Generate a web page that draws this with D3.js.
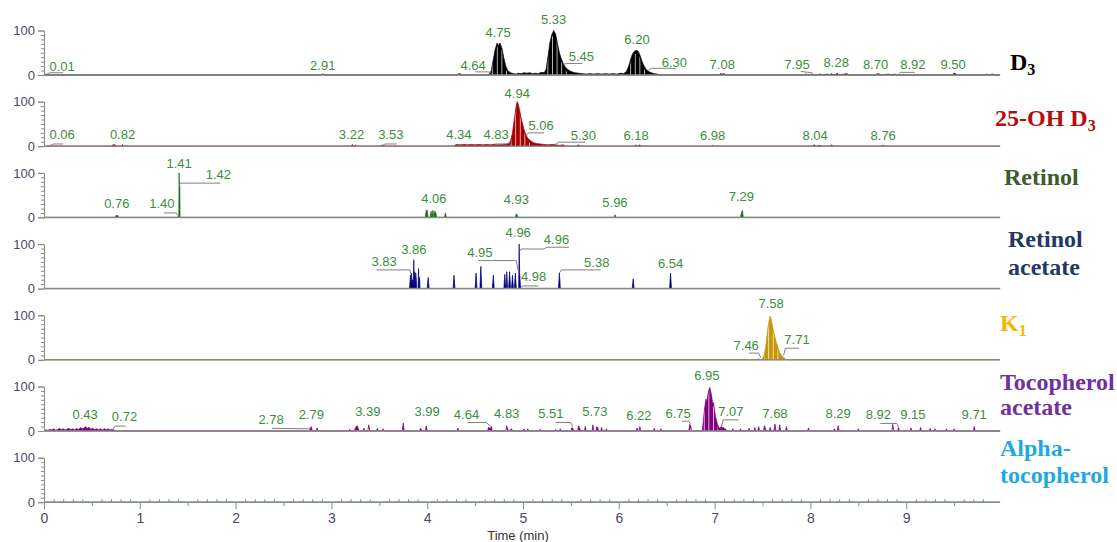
<!DOCTYPE html>
<html><head><meta charset="utf-8">
<script src="https://cdn.jsdelivr.net/npm/d3@7"></script>
<style>body{margin:0;background:#fff}svg{display:block}</style>
</head><body>
<svg id="c" width="1117" height="542"></svg>
<script>
// ---------- DATA ----------
const compounds = ["D3", "25-OH D3", "Retinol", "Retinol acetate", "K1", "Tocopherol acetate", "Alpha-tocopherol"];
const xTicks = [0, 1, 2, 3, 4, 5, 6, 7, 8, 9];
const yTicks = [0, 100];
const xTitle = "Time (min)";

const traceD3 = [[0,0],[0.01,3],[0.02,0],[2.90,0],[2.91,3],[2.92,0],[4.31,0],[4.33,3],[4.35,2],[4.37,0],
[4.62,0],[4.65,2],[4.67,10],[4.69,35],[4.71,58],[4.73,72],[4.745,66],[4.76,72],[4.78,60],[4.80,38],[4.82,20],[4.84,10],[4.87,5],[4.90,3],[4.93,2],[4.95,4],[4.98,3],[5.01,5],[5.04,4],[5.07,5],[5.10,3],[5.13,4],[5.16,3],[5.19,6],[5.22,5],[5.24,12],[5.26,40],[5.28,72],[5.30,90],[5.32,100],[5.34,92],[5.36,70],[5.38,50],[5.40,36],[5.42,26],[5.44,18],[5.47,12],[5.50,8],[5.54,5],[5.58,4],[5.62,3],[5.66,2],[5.70,3],[5.74,2],[5.78,3],[5.82,2],[5.86,3],[5.90,2],[5.94,3],[5.98,2],[6.02,4],[6.05,3],[6.08,8],[6.10,18],[6.12,32],[6.14,46],[6.16,53],[6.18,55],[6.20,54],[6.22,45],[6.24,32],[6.26,22],[6.28,14],[6.31,8],[6.34,5],[6.37,3],[6.40,2],[6.43,0],
[7.05,0],[7.06,3],[7.08,2],[7.10,3],[7.11,0],[7.93,0],[7.95,2],[7.98,0],[8.02,2],[8.05,0],[8.10,2],[8.13,0],[8.18,2],[8.20,0],[8.22,3],[8.24,0],[8.27,2],[8.28,4],[8.30,0],[8.38,3],[8.40,0],
[8.68,0],[8.70,3],[8.72,2],[8.74,0],[8.82,2],[8.84,0],[8.88,2],[8.90,0],[9.48,0],[9.50,4],[9.52,2],[9.54,0],[9.82,0],[9.84,2],[9.86,0],[9.90,2],[9.92,0],[9.98,0]];

const trace25OH = [[0,0],[0.05,0],[0.06,2],[0.07,0],[0.70,0],[0.72,3],[0.74,3],[0.76,0],[0.81,0],[0.82,4],[0.83,0],
[3.20,0],[3.22,4],[3.23,0],[3.25,3],[3.26,0],[3.52,0],[3.53,3],[3.55,0],
[4.28,0],[4.30,4],[4.34,3],[4.38,4],[4.42,3],[4.46,4],[4.50,3],[4.54,4],[4.58,3],[4.62,4],[4.66,3],[4.70,4],[4.74,3],[4.78,4],[4.82,5],[4.85,6],[4.87,12],[4.89,30],[4.91,62],[4.93,92],[4.94,100],[4.95,95],[4.97,75],[4.99,55],[5.01,38],[5.03,26],[5.05,18],[5.08,12],[5.11,8],[5.14,6],[5.18,5],[5.22,4],[5.26,3],[5.30,4],[5.34,3],[5.38,2],[5.42,3],[5.44,0],
[5.56,0],[5.58,3],[5.60,0],[6.16,0],[6.18,3],[6.19,0],[6.22,3],[6.23,0],[6.97,0],[6.98,2],[6.99,0],
[8.02,0],[8.04,3],[8.06,0],[8.10,2],[8.12,0],[8.20,0],[8.22,3],[8.24,0],[8.75,0],[8.76,3],[8.77,0],[9.98,0]];

const traceRetinol = [[0,0],[0.74,0],[0.75,4],[0.77,4],[0.78,0],[1.39,0],[1.40,2],[1.405,0],[1.407,0],[1.41,100],[1.414,70],[1.418,70],[1.42,0],
[3.98,0],[3.99,16],[4.00,16],[4.01,0],[4.03,0],[4.04,14],[4.05,0],[4.06,16],[4.07,0],[4.08,14],[4.09,10],[4.10,0],[4.18,0],[4.19,10],[4.20,0],
[4.92,0],[4.93,8],[4.94,5],[4.95,0],[5.95,0],[5.96,6],[5.97,0],[7.27,0],[7.28,10],[7.29,16],[7.30,0],[9.98,0]];

const traceRetAc = [[0,0],[3.815,0],[3.825,30],[3.83,5],[3.835,35],[3.84,15],[3.845,20],[3.85,5],[3.855,20],[3.86,65],[3.865,5],[3.87,38],[3.875,5],[3.88,35],[3.885,25],[3.89,0],[3.905,0],[3.91,45],[3.915,0],[3.92,25],[3.925,0],
[4.00,0],[4.01,25],[4.02,0],[4.27,0],[4.28,30],[4.29,0],[4.50,0],[4.51,35],[4.52,0],[4.55,0],[4.56,50],[4.57,0],[4.68,0],[4.69,30],[4.70,0],
[4.80,0],[4.81,32],[4.82,0],[4.825,0],[4.83,38],[4.84,0],[4.85,0],[4.86,38],[4.87,0],[4.88,0],[4.89,30],[4.90,0],[4.91,0],[4.92,35],[4.93,0],
[4.955,0],[4.96,100],[4.965,35],[4.975,0],[5.37,0],[5.38,35],[5.39,0],[6.14,0],[6.15,22],[6.16,0],[6.53,0],[6.54,35],[6.55,0],[9.98,0]];

const traceK1 = [[0,0],[7.45,0],[7.46,3],[7.47,0],[7.49,0],[7.50,3],[7.52,12],[7.54,40],[7.555,70],[7.57,90],[7.58,98],[7.59,92],[7.60,80],[7.62,60],[7.64,42],[7.66,28],[7.68,16],[7.70,10],[7.72,5],[7.74,2],[7.76,0],[9.98,0]];

const traceTocAc = [[0,0],[0.02,3],[0.04,1],[0.06,4],[0.08,2],[0.10,5],[0.12,2],[0.14,3],[0.16,6],[0.18,3],[0.20,5],[0.22,2],[0.24,4],[0.26,6],[0.28,3],[0.30,5],[0.32,2],[0.34,6],[0.36,3],[0.38,8],[0.40,5],[0.42,7],[0.43,10],[0.45,6],[0.47,8],[0.49,4],[0.51,6],[0.53,3],[0.55,5],[0.57,3],[0.59,5],[0.61,2],[0.63,5],[0.65,3],[0.67,5],[0.69,2],[0.71,4],[0.73,2],[0.75,0],
[2.77,0],[2.78,6],[2.79,10],[2.80,0],[2.84,0],[2.85,7],[2.86,0],[3.18,0],[3.19,4],[3.20,0],[3.24,0],[3.25,8],[3.27,12],[3.28,6],[3.29,0],[3.33,0],[3.34,6],[3.35,0],[3.38,0],[3.39,14],[3.40,0],[3.47,0],[3.48,6],[3.49,0],[3.53,0],[3.54,5],[3.55,0],
[3.74,0],[3.75,18],[3.76,0],[3.92,0],[3.93,6],[3.94,4],[3.95,0],[3.98,0],[3.99,12],[4.00,0],[4.31,0],[4.32,7],[4.33,0],[4.63,0],[4.64,8],[4.66,6],[4.67,10],[4.68,0],
[4.82,0],[4.83,12],[4.84,4],[4.86,0],[4.88,5],[4.89,0],[5.00,0],[5.01,5],[5.02,0],[5.04,0],[5.05,5],[5.06,0],[5.17,0],[5.18,4],[5.19,0],[5.33,0],[5.34,4],[5.35,0],[5.38,0],[5.39,5],[5.40,0],
[5.50,0],[5.51,8],[5.52,6],[5.53,0],[5.57,0],[5.58,12],[5.59,8],[5.60,0],[5.64,0],[5.65,10],[5.66,0],[5.72,0],[5.73,14],[5.74,0],[5.76,0],[5.77,10],[5.78,8],[5.79,0],[5.81,0],[5.82,8],[5.83,0],[5.86,0],[5.87,5],[5.88,0],
[6.18,0],[6.19,7],[6.20,0],[6.21,0],[6.22,10],[6.23,0],[6.36,0],[6.37,6],[6.38,0],[6.43,0],[6.44,5],[6.45,0],[6.73,0],[6.74,15],[6.75,12],[6.76,0],
[6.87,0],[6.88,18],[6.89,40],[6.90,58],[6.91,72],[6.92,66],[6.93,82],[6.94,92],[6.95,98],[6.96,88],[6.97,78],[6.98,60],[6.99,64],[7.00,45],[7.01,32],[7.02,24],[7.03,15],[7.04,10],[7.05,6],[7.06,8],[7.07,10],[7.08,6],[7.09,9],[7.10,4],[7.11,6],[7.12,3],[7.13,0],
[7.18,0],[7.19,5],[7.20,0],[7.26,0],[7.27,5],[7.28,0],[7.35,0],[7.36,6],[7.37,0],[7.41,0],[7.42,8],[7.43,0],[7.45,0],[7.46,10],[7.47,0],[7.51,0],[7.52,12],[7.53,6],[7.54,0],[7.57,0],[7.58,8],[7.59,0],[7.62,0],[7.63,16],[7.64,0],[7.67,0],[7.68,14],[7.69,0],[7.74,0],[7.75,10],[7.76,0],
[7.97,0],[7.98,7],[7.99,0],[8.24,0],[8.25,5],[8.26,0],[8.28,0],[8.29,12],[8.30,0],[8.49,0],[8.50,5],[8.51,0],[8.85,0],[8.86,15],[8.87,0],[8.91,0],[8.92,8],[8.93,0],
[9.04,0],[9.05,7],[9.06,0],[9.14,0],[9.15,8],[9.16,0],[9.24,0],[9.25,6],[9.26,0],[9.29,0],[9.30,5],[9.31,0],[9.41,0],[9.42,5],[9.43,0],[9.49,0],[9.50,5],[9.51,0],[9.70,0],[9.71,10],[9.72,0],[9.98,0]];

const traceAlphaToc = [[0,0],[9.98,0]];

// peak label values (retention times, min)
const rtD3 = [0.01, 2.91, 4.64, 4.75, 5.33, 5.45, 6.20, 6.30, 7.08, 7.95, 8.28, 8.70, 8.92, 9.50];
const rt25OH = [0.06, 0.82, 3.22, 3.53, 4.34, 4.83, 4.94, 5.06, 5.30, 6.18, 6.98, 8.04, 8.76];
const rtRetinol = [0.76, 1.40, 1.41, 1.42, 4.06, 4.93, 5.96, 7.29];
const rtRetAc = [3.83, 3.86, 4.95, 4.96, 4.96, 4.98, 5.38, 6.54];
const rtK1 = [7.46, 7.58, 7.71];
const rtTocAc = [0.43, 0.72, 2.78, 2.79, 3.39, 3.99, 4.64, 4.83, 5.51, 5.73, 6.22, 6.75, 6.95, 7.07, 7.68, 8.29, 8.92, 9.15, 9.71];
const rtAlphaToc = [];

// ---------- LAYOUT (label placement in data units: [time, intensity, leader polyline]) ----------
const placeD3 = [[0.19,9,[[0.02,1],[0.06,5],[0.2,5]]],[2.91,11],[4.48,11,[[4.50,7],[4.64,7],[4.68,3]]],[4.74,85],[5.32,114],
 [5.61,31,[[5.42,24],[5.46,26],[5.62,26]]],[6.19,70],[6.58,18,[[6.30,9],[6.34,15],[6.60,15]]],[7.08,13],[7.86,13,[[7.90,8],[8.02,5]]],[8.27,17],[8.68,13],[9.07,13,[[8.92,2],[8.94,6],[9.09,6]]],[9.49,13]];
const place25OH = [[0.19,16,[[0.06,1],[0.1,5],[0.2,5]]],[0.82,16],[3.21,16],[3.62,16,[[3.53,1],[3.56,5],[3.68,5]]],[4.33,16],[4.72,16,[[4.70,5],[4.83,5],[4.86,7]]],[4.94,108],
 [5.19,36,[[5.03,24],[5.06,30],[5.22,30]]],[5.63,14,[[5.33,3],[5.37,9],[5.65,9]]],[6.18,14],[6.98,14],[8.05,14],[8.76,14]];
const placeRetinol = [[0.76,21],[1.23,21,[[1.25,10],[1.38,10],[1.40,4]]],[1.41,110],[1.82,86,[[1.415,70],[1.42,77],[1.84,77]]],[4.07,33],[4.93,30],[5.96,23],[7.28,37]];
const placeRetAc = [[3.55,50,[[3.47,42],[3.82,42],[3.83,32]]],[3.86,78],[4.55,71,[[4.53,63],[4.93,63],[4.95,40]]],[4.95,117],
 [5.35,101,[[4.97,85],[4.98,89],[5.22,89],[5.25,93],[5.48,93]]],[5.11,17,[[4.98,3],[5.0,6],[5.16,6]]],[5.77,48,[[5.38,35],[5.40,42],[5.81,42]]],[6.54,46]];
const placeK1 = [[7.33,22,[[7.36,15],[7.46,15],[7.48,5]]],[7.59,116],[7.86,36,[[7.72,10],[7.74,26],[7.88,26]]]];
const placeTocAc = [[0.43,27],[0.84,22,[[0.72,4],[0.74,11],[0.85,11]]],[2.37,16,[[2.38,6],[2.76,5],[2.78,8]]],[2.79,27],[3.38,33],[4.0,33],[4.41,27,[[4.42,19],[4.62,19],[4.66,10]]],[4.83,29],
 [5.29,29,[[5.34,19],[5.50,19],[5.52,10]]],[5.75,33],[6.21,25],[6.62,30,[[6.66,22],[6.73,22],[6.75,15]]],[6.92,115],[7.17,33,[[7.07,10],[7.09,25],[7.25,25]]],[7.63,29],[8.29,29],
 [8.71,27,[[8.73,17],[8.90,17],[8.92,8]]],[9.07,27],[9.71,27]];
const placeAlphaToc = [];

const traces = [traceD3, trace25OH, traceRetinol, traceRetAc, traceK1, traceTocAc, traceAlphaToc];
const rts = [rtD3, rt25OH, rtRetinol, rtRetAc, rtK1, rtTocAc, rtAlphaToc];
const places = [placeD3, place25OH, placeRetinol, placeRetAc, placeK1, placeTocAc, placeAlphaToc];
const fills = ["#000000", "#a80000", "#146b14", "#00007a", "#c8960c", "#800080", "#1eaadf"];
const hatched = [true, true, false, false, true, true, false];
const nameColors = ["#000000", "#b30d0d", "#3d5c2c", "#1f3864", "#f2b705", "#7030a0", "#1eaadf"];

// ---------- DRAW ----------
const svg = d3.select("#c");
svg.append("rect").attr("width", 1117).attr("height", 542).attr("fill", "#fff");
const defs = svg.append("defs");
const pat = defs.append("pattern").attr("id", "hatch").attr("patternUnits", "userSpaceOnUse")
  .attr("width", 4.6).attr("height", 10);
pat.append("rect").attr("x", 0).attr("y", 0).attr("width", 0.9).attr("height", 10).attr("fill", "#ffffff").attr("opacity", 0.75);

const x = d3.scaleLinear().domain([0, 10]).range([44, 1002]);
const tEnd = 9.98;
const axisCol = "#8a8a8a", tickTextCol = "#4a4a66", lblCol = "#3b8e3b";
const fmt = d3.format(".2f");

compounds.forEach((name, k) => {
  const base = 75 + 71.2 * k;
  const y = d3.scaleLinear().domain([0, 100]).range([base, base - 44.5]);
  const g = svg.append("g");

  // trace
  const area = d3.area().x(d => x(d[0])).y0(y(0)).y1(d => y(d[1]));
  g.append("path").datum(traces[k]).attr("d", area)
    .attr("fill", fills[k]).attr("stroke", fills[k]).attr("stroke-width", 0.7);
  if (hatched[k]) {
    const inner = d3.area().x(d => x(d[0])).y0(y(0)).y1(d => Math.min(y(0), y(d[1]) + 3));
    g.append("path").datum(traces[k]).attr("d", inner).attr("fill", "url(#hatch)");
  }

  // baseline
  g.append("line").attr("x1", x(0)).attr("x2", x(tEnd)).attr("y1", y(0)).attr("y2", y(0))
    .attr("stroke", axisCol).attr("stroke-width", 1.5);

  // y axis
  const ya = g.append("g").attr("transform", `translate(${x(0)},0)`)
    .call(d3.axisLeft(y).tickValues(yTicks).tickSize(6).tickPadding(3));
  ya.select(".domain").attr("stroke", axisCol);
  ya.selectAll(".tick line").attr("stroke", axisCol);
  ya.selectAll("text").attr("fill", tickTextCol).style("font", "13px 'Liberation Sans', Arial, sans-serif");
  const ym = g.append("g").attr("transform", `translate(${x(0)},0)`)
    .call(d3.axisLeft(y).tickValues(d3.range(10, 100, 10)).tickSize(3).tickFormat(""));
  ym.select(".domain").remove();
  ym.selectAll(".tick line").attr("stroke", axisCol);

  // peak labels
  rts[k].forEach((rt, j) => {
    const p = places[k][j];
    if (p[2]) {
      g.append("path").attr("d", d3.line().x(d => x(d[0])).y(d => y(d[1]))(p[2]))
        .attr("fill", "none").attr("stroke", "#808080").attr("stroke-width", 1);
    }
    g.append("text").attr("x", x(p[0])).attr("y", y(p[1])).attr("text-anchor", "middle")
      .attr("fill", lblCol).style("font", "13px 'Liberation Sans', Arial, sans-serif").text(fmt(rt));
  });
});

// bottom axis
const baseB = 75 + 71.2 * 6;
const xa = svg.append("g").attr("transform", `translate(0,${baseB})`)
  .call(d3.axisBottom(x).tickValues(xTicks).tickSize(7).tickPadding(4).tickFormat(d3.format("d")));
xa.select(".domain").remove();
xa.selectAll(".tick line").attr("stroke", axisCol);
xa.selectAll("text").attr("fill", tickTextCol).style("font", "14px 'Liberation Sans', Arial, sans-serif");
const halfT = d3.range(0.5, 10, 1);
svg.append("g").attr("transform", `translate(0,${baseB})`)
  .call(d3.axisBottom(x).tickValues(halfT).tickSize(4).tickFormat(""))
  .call(s => { s.select(".domain").remove(); s.selectAll(".tick line").attr("stroke", axisCol); });
const minorT = d3.range(0, 99).map(i => i / 10).filter(v => Math.abs(v * 2 - Math.round(v * 2)) > 1e-6);
svg.append("g").attr("transform", `translate(0,${baseB})`)
  .call(d3.axisTop(x).tickValues(minorT).tickSize(3).tickFormat(""))
  .call(s => { s.select(".domain").remove(); s.selectAll(".tick line").attr("stroke", axisCol); });
svg.append("text").attr("x", 518).attr("y", 540).attr("text-anchor", "middle")
  .attr("fill", "#333").style("font", "13px 'Liberation Sans', Arial, sans-serif").text(xTitle);

// compound names
const serif = "bold 24px 'Liberation Serif', 'Times New Roman', serif";
function nameText(xp, yp, col, parts) {
  const t = svg.append("text").attr("x", xp).attr("y", yp).attr("fill", col).style("font", serif);
  parts.forEach(pt => {
    const s = t.append("tspan").text(pt[0]);
    if (pt[1] === "sub") s.attr("dy", 5).style("font-size", "16px");
  });
}
nameText(1010, 70, nameColors[0], [["D"], ["3", "sub"]]);
nameText(995, 126, nameColors[1], [["25-OH D"], ["3", "sub"]]);
nameText(1004, 185, nameColors[2], [["Retinol"]]);
nameText(1008, 247, nameColors[3], [["Retinol"]]);
nameText(1008, 275, nameColors[3], [["acetate"]]);
nameText(1000, 331, nameColors[4], [["K"], ["1", "sub"]]);
nameText(1000, 390, nameColors[5], [["Tocopherol"]]);
nameText(1000, 415, nameColors[5], [["acetate"]]);
nameText(1000, 456, nameColors[6], [["Alpha-"]]);
nameText(1000, 483, nameColors[6], [["tocopherol"]]);
</script>
</body></html>
